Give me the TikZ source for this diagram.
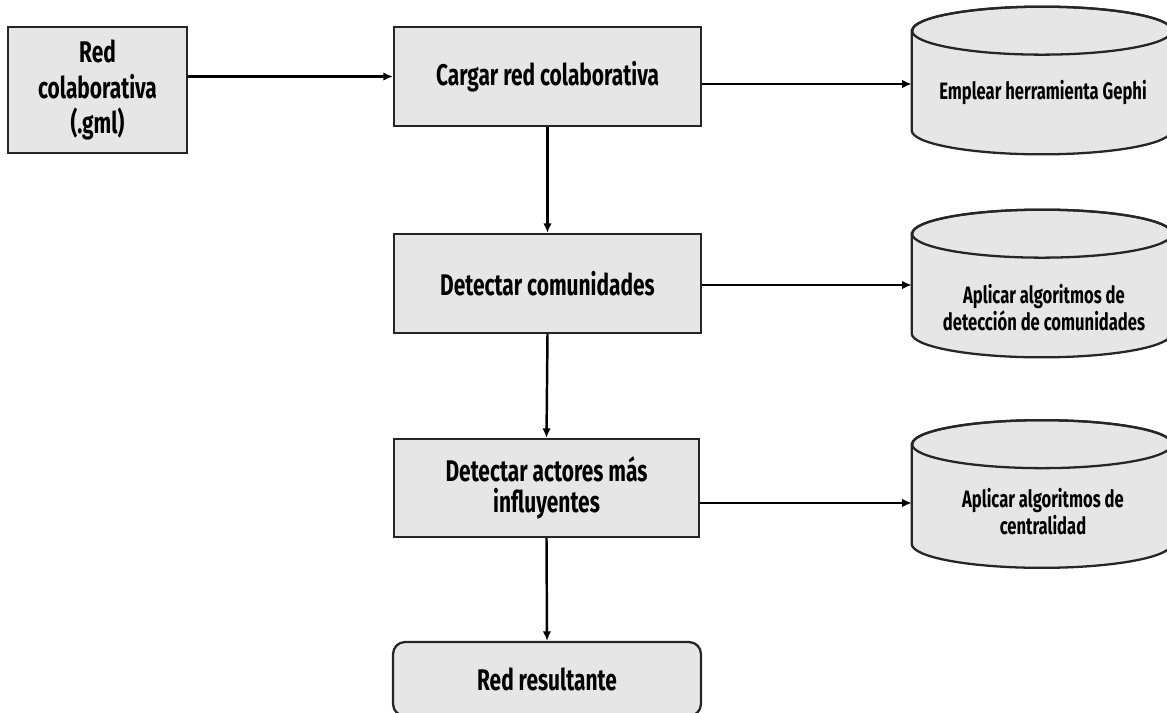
\documentclass[tikz,border=0pt]{standalone}
\usepackage{fontspec}
\setmainfont{Fira Sans}[FakeStretch=0.7]
\usepackage{xcolor}
\usepackage{tikz}
\usetikzlibrary{arrows.meta, positioning, calc}
\definecolor{cajagris}{HTML}{E6E6E6}
\definecolor{borde}{HTML}{262626}

\begin{document}
\begin{tikzpicture}[x=0.02cm, y=-0.02cm,
    caja/.style={draw=borde, fill=cajagris, line width=1.3pt, align=center,
                 inner sep=0pt, font=\fontsize{17}{20}\selectfont\bfseries},
    cilindro/.style={minimum width=5.2cm, minimum height=2.94cm, inner sep=0pt},
    textocil/.style={align=center, inner sep=0pt, font=\fontsize{13.5}{15.3}\selectfont\bfseries},
    flecha/.style={-{Latex[length=1.9mm, width=1.7mm]}, line width=1.4pt}]
    \useasboundingbox (0,0) rectangle (1167,713);

    % entrada
    \node[caja, minimum width=3.58cm, minimum height=2.52cm] (red) at (97.5,90) {Red\\colaborativa\\(.gml)};

    % columna central
    \node[caja, minimum width=6.14cm, minimum height=1.98cm] (cargar) at (547.5,76.5) {Cargar red colaborativa};
    \node[caja, minimum width=6.14cm, minimum height=1.98cm] (comunidades) at (547.5,283.5) {Detectar comunidades};
    \node[caja, minimum width=6.1cm, minimum height=1.96cm, font=\fontsize{17}{18}\selectfont\bfseries] (actores) at (546.5,488) {Detectar actores más\\influyentes};
    \node[caja, rounded corners=0.24cm, minimum width=6.16cm, minimum height=1.48cm] (resultante) at (547,679) {Red resultante};

    % cilindros de la derecha
    \node[cilindro] (gephi) at (1042,80.5) {};
    \node[cilindro] (deteccion) at (1042,283.5) {};
    \node[cilindro] (centralidad) at (1042,494) {};
    \foreach \c in {gephi, deteccion, centralidad}{
        \filldraw[fill=cajagris, draw=borde, line width=1.3pt]
            ([yshift=-0.48cm]\c.north west) -- ([yshift=0.48cm]\c.south west)
            arc[start angle=180, end angle=360, x radius=2.6cm, y radius=0.48cm]
            -- ([yshift=-0.48cm]\c.north east)
            arc[start angle=0, end angle=180, x radius=2.6cm, y radius=0.48cm] -- cycle;
        \draw[borde, line width=1.3pt] ([yshift=-0.48cm]\c.north) ellipse [x radius=2.6cm, y radius=0.48cm];
    }
    \node[textocil] (tgephi) at (1043,93) {Emplear herramienta Gephi};
    \node[textocil] (tdeteccion) at (1044,308) {Aplicar algoritmos de\\detección de comunidades};
    \node[textocil] (tcentralidad) at (1043,512) {Aplicar algoritmos de\\centralidad};

    % flechas
    \draw[flecha] (red.east |- cargar.west) -- (cargar.west);
    \draw[flecha] (cargar.south) -- (comunidades.north);
    \draw[flecha] (comunidades.south) -- (actores.north);
    \draw[flecha] (actores.south) -- (resultante.north);

    \coordinate (s1) at ([yshift=-0.15cm]cargar.east);
    \coordinate (s2) at ([yshift=-0.03cm]comunidades.east);
    \coordinate (s3) at ([yshift=-0.3cm]actores.east);
    \draw[flecha] (s1) -- (s1 -| gephi.west);
    \draw[flecha] (s2) -- (s2 -| deteccion.west);
    \draw[flecha] (s3) -- (s3 -| centralidad.west);
\end{tikzpicture}
\end{document}
